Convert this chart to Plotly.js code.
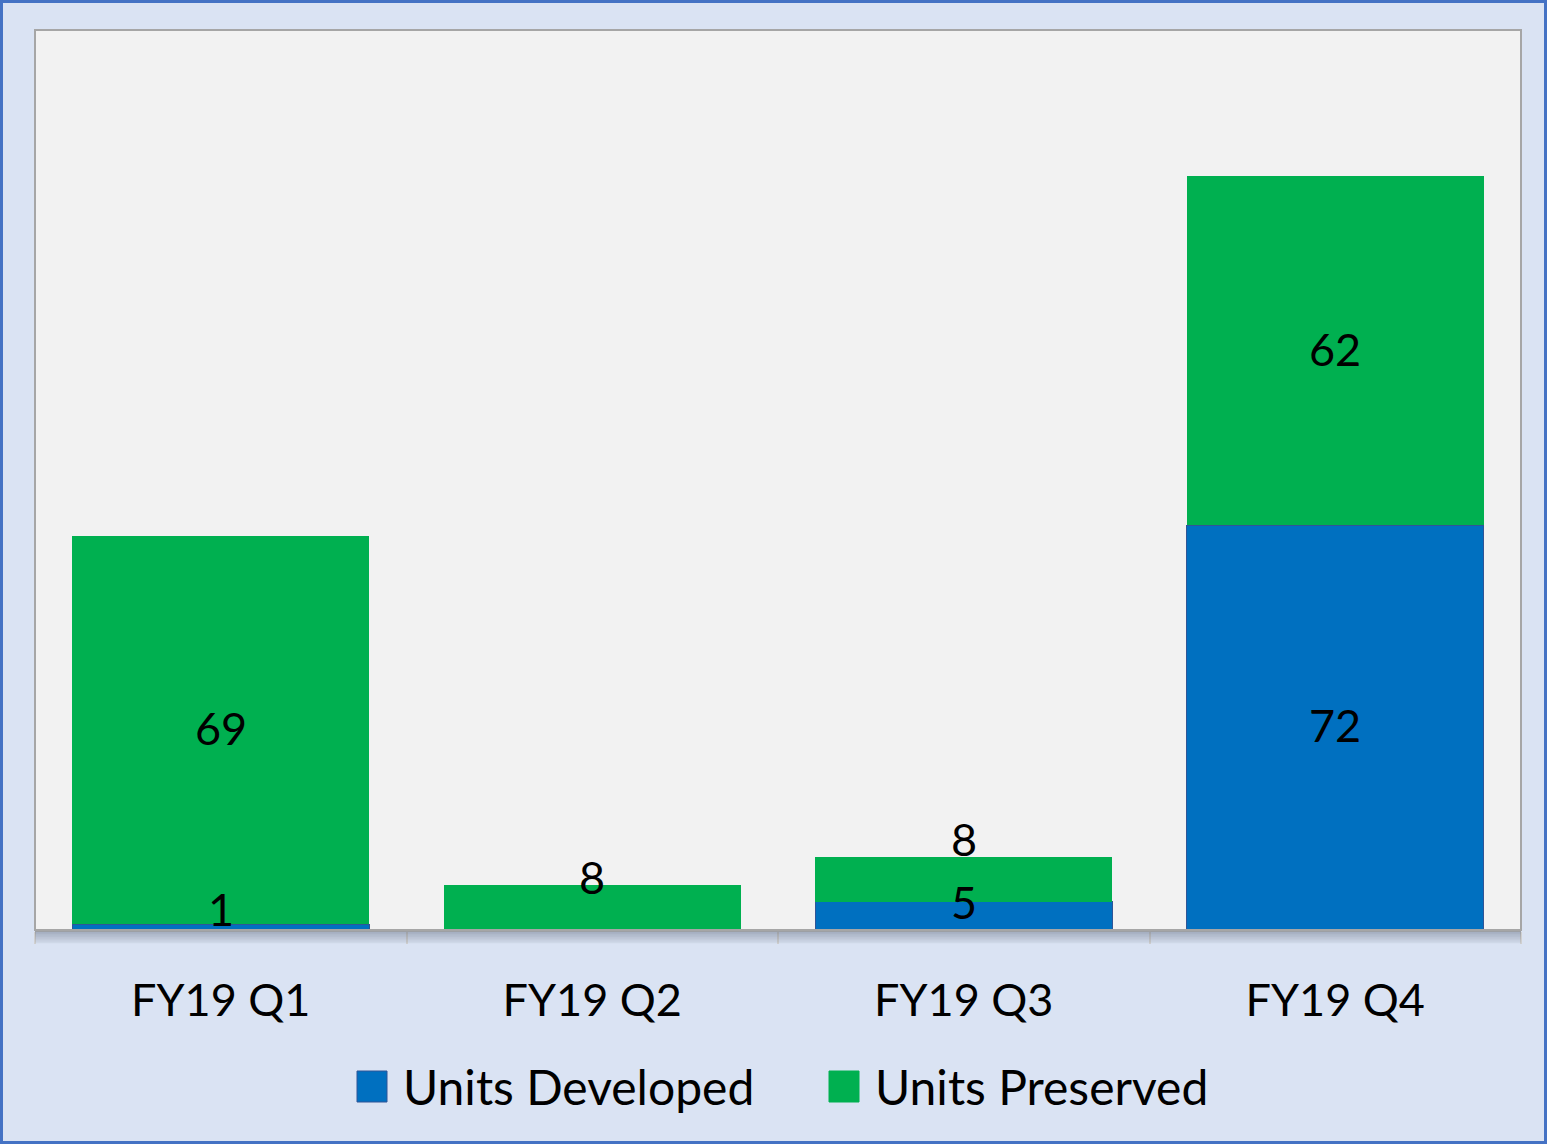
<!DOCTYPE html>
<html>
<head>
<meta charset="utf-8">
<script src="https://cdn.plot.ly/plotly-3.0.1.min.js"></script>
<style>
html,body{margin:0;padding:0;background:#dae3f3;}
#wrap{position:absolute;left:0;top:0;width:1547px;height:1144px;box-sizing:border-box;border:3px solid #4472c4;background:#dae3f3;}
#chart{width:1541px;height:1138px;}
</style>
</head>
<body>
<div id="wrap"><div id="chart"></div></div>
<script>
// ---- data ----
const categories = ['FY19 Q1', 'FY19 Q2', 'FY19 Q3', 'FY19 Q4'];
const unitsDeveloped = [1, 0, 5, 72];
const unitsPreserved = [69, 8, 8, 62];
const seriesNames = ['Units Developed', 'Units Preserved'];

// ---- styles ----
const colDev = '#0070c0';
const colPres = '#00b050';
const FONT = 'Lato, "Open Sans", sans-serif';
const FS = 45;
const FS_LEG = 48;
// pixel nudges for labels that Excel moved to avoid overlap (style only)
const nudgeDev = [18, 0, 14, 3];
const nudgePres = [2, 31, 40, 2];

const W = 1541, H = 1138;
const M = {l: 32, r: 23, t: 27, b: 211};
const pw = W - M.l - M.r, ph = H - M.t - M.b;

const traces = [
  {type: 'bar', name: seriesNames[0], x: categories, y: unitsDeveloped,
   marker: {color: colDev, line: {color: '#2f5597', width: 1}}, showlegend: false, hoverinfo: 'none'},
  {type: 'bar', name: seriesNames[1], x: categories, y: unitsPreserved,
   marker: {color: colPres, line: {width: 0}}, showlegend: false, hoverinfo: 'none'}
];

const annotations = [];
categories.forEach((c, i) => {
  if (unitsDeveloped[i] > 0) {
    annotations.push({x: c, y: unitsDeveloped[i] / 2, xref: 'x', yref: 'y', text: String(unitsDeveloped[i]),
      showarrow: false, yshift: nudgeDev[i], font: {family: FONT, size: FS, color: '#000'}});
  }
  if (unitsPreserved[i] > 0) {
    annotations.push({x: c, y: unitsDeveloped[i] + unitsPreserved[i] / 2, xref: 'x', yref: 'y', text: String(unitsPreserved[i]),
      showarrow: false, yshift: nudgePres[i], font: {family: FONT, size: FS, color: '#000'}});
  }
});

// custom legend (large swatches)
const px2x = p => (p - M.l) / pw;          // chart-div x -> paper x
const py2y = p => 1 - (p - M.t) / ph;      // chart-div y -> paper y
const legendItems = [
  {name: seriesNames[0], color: colDev, line: '#2f5597', sx: 354},
  {name: seriesNames[1], color: colPres, line: colPres, sx: 826}
];
const shapes = [];
legendItems.forEach(it => {
  shapes.push({type: 'rect', xref: 'paper', yref: 'paper',
    x0: px2x(it.sx), x1: px2x(it.sx + 30), y0: py2y(1068), y1: py2y(1099),
    fillcolor: it.color, line: {color: it.line, width: 1}});
  annotations.push({xref: 'paper', yref: 'paper', x: px2x(it.sx + 44), y: py2y(1083),
    xanchor: 'left', yanchor: 'middle', showarrow: false, text: it.name,
    font: {family: FONT, size: FS_LEG, color: '#000'}});
});
// plot-area border and soft shadow under axis
shapes.push({type: 'rect', xref: 'paper', yref: 'paper', x0: 0, x1: 1, y0: 0, y1: 1,
  line: {color: '#a6a6a6', width: 2}, fillcolor: 'rgba(0,0,0,0)', layer: 'above'});
for (let k = 0; k < 8; k++) {
  shapes.push({type: 'line', xref: 'paper', yref: 'paper', x0: 0, x1: 1,
    y0: py2y(M.t + ph + 2 + k * 1.5), y1: py2y(M.t + ph + 2 + k * 1.5),
    line: {color: 'rgba(60,70,90,' + (0.35 - k * 0.04).toFixed(2) + ')', width: 1.5}});
}

const layout = {
  width: W, height: H,
  margin: M,
  paper_bgcolor: '#dae3f3',
  plot_bgcolor: '#f2f2f2',
  barmode: 'stack',
  bargap: 0.2,
  showlegend: false,
  xaxis: {
    type: 'category',
    showgrid: false,
    showline: true, linecolor: '#bfbfbf', linewidth: 2,
    ticks: 'outside', tickson: 'boundaries', ticklen: 12, tickcolor: '#d0d0d0', tickwidth: 2,
    ticklabelstandoff: 30,
    tickfont: {family: FONT, size: FS, color: '#000'}
  },
  yaxis: {
    range: [0, 160],
    showgrid: false, zeroline: false, showticklabels: false, showline: false, ticks: ''
  },
  annotations: annotations,
  shapes: shapes
};

Plotly.newPlot('chart', traces, layout, {staticPlot: true, displayModeBar: false});
</script>
</body>
</html>
